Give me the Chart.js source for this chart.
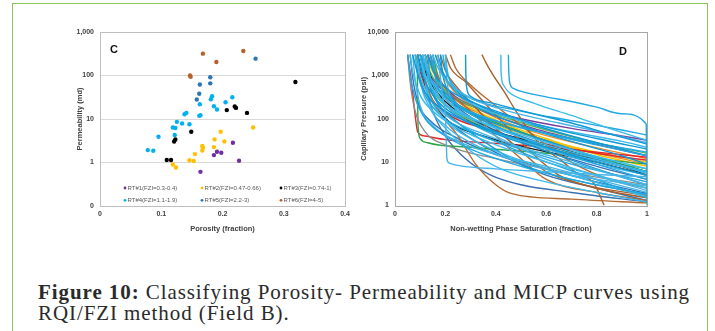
<!DOCTYPE html>
<html>
<head>
<meta charset="utf-8">
<script src="https://cdn.jsdelivr.net/npm/chart.js@4.4.1/dist/chart.umd.min.js"></script>
<style>
html,body{margin:0;padding:0;background:#fff;width:715px;height:331px;overflow:hidden;position:relative}
#frame{position:absolute;left:12px;top:3px;width:696px;height:400px;border:1.5px solid #8CC653;box-sizing:border-box}
#cC{position:absolute;left:40px;top:20px}
#cD{position:absolute;left:356px;top:20px}
.cap{position:absolute;left:38px;font-family:"Liberation Serif","Times New Roman",Times,serif;font-size:21px;line-height:21px;color:#2a2a2a;white-space:nowrap;font-weight:normal}
.cap b{font-weight:bold}
</style>
</head>
<body>
<div id="frame"></div>
<canvas id="cC" width="320" height="220"></canvas>
<canvas id="cD" width="330" height="220"></canvas>
<div class="cap" id="cap1" style="top:282px"><b>Figure 10:</b> Classifying Porosity- Permeability and MICP curves using</div>
<div class="cap" id="cap2" style="top:303px">RQI/FZI method (Field B).</div>
<script>
// ---------- Panel C data (porosity fraction, permeability md) ----------
const rtLabels = ['RT#1(FZI=0.3-0.4)','RT#2(FZI=0.47-0.66)','RT#3(FZI=0.74-1)','RT#4(FZI=1.1-1.9)','RT#5(FZI=2.2-3)','RT#6(FZI=4-5)'];
const rtColors = ['#7030A0','#FFC000','#000000','#00B0F0','#2E75B6','#B8602A'];

const porRT1 = [0.217,0.191,0.198,0.186,0.227,0.164];
const permRT1 = [2.84,1.77,1.67,1.48,1.10,0.61];
const porRT2 = [0.250,0.197,0.187,0.203,0.167,0.168,0.167,0.186,0.155,0.146,0.153,0.119,0.124];
const permRT2 = [6.4,5.1,3.4,3.05,2.4,2.18,1.89,2.26,1.56,1.13,1.08,0.90,0.77];
const porRT3 = [0.319,0.207,0.220,0.222,0.240,0.149,0.123,0.121,0.109,0.116];
const permRT3 = [71,16.0,19.4,18.0,13.8,5.1,3.4,3.05,1.14,1.14];
const porRT4 = [0.078,0.087,0.0955,0.122,0.119,0.123,0.1255,0.134,0.138,0.141,0.146,0.162,0.164,0.163,0.181,0.183,0.186,0.191,0.205,0.216];
const permRT4 = [1.93,1.86,3.9,4.3,6.4,6.2,8.6,7.9,12.9,13.8,7.6,11.8,12.2,21.9,28.5,33.4,19.7,16.5,24.3,31.7];
const porRT5 = [0.254,0.180,0.180,0.163,0.162,0.158];
const permRT5 = [244,91,66,62,38,28];
const porRT6 = [0.168,0.234,0.190,0.147,0.148];
const permRT6 = [318,366,205,100,93];

const xTicksC = [0,0.1,0.2,0.3,0.4];
const xTickLabelsC = ['0','0.1','0.2','0.3','0.4'];
const yTicksC = [0.1,1,10,100,1000];
const yTickLabelsC = ['0','1','10','100','1,000'];

// ---------- Panel D data (non-wetting saturation, capillary pressure psi) ----------
const cyanCurves = [
 [[0.45,3000],[0.451,1500],[0.455,700],[0.47,500],[0.52,400],[0.6,320],[0.7,250],[0.8,185],[0.9,130],[0.997,75],[1,1]],
 [[0.42,3000],[0.421,1200],[0.43,600],[0.45,420],[0.55,230],[0.7,120],[0.85,60],[1,32]],
 [[0.28,3000],[0.281,1200],[0.285,500],[0.3,330],[0.4,220],[0.55,130],[0.7,80],[0.85,45],[1,26]],
 [[0.17,3000],[0.18,900],[0.19,300],[0.2,120],[0.203,40],[0.206,12],[0.215,9.5],[0.26,8.2],[0.4,7],[0.6,6],[0.8,5.2],[1,4.6]],
 [[0.05,3000],[0.06,1000],[0.08,300],[0.12,100],[0.2,40],[0.3,20],[0.5,8],[0.7,4],[1,1.8]],
 [[0.06,3000],[0.07,1200],[0.1,350],[0.15,150],[0.25,60],[0.4,25],[0.6,10],[0.8,5],[1,2.5]],
 [[0.07,3000],[0.09,1100],[0.12,400],[0.2,150],[0.3,80],[0.45,40],[0.6,22],[0.8,10],[1,5]],
 [[0.08,3000],[0.1,900],[0.14,300],[0.22,100],[0.35,45],[0.5,22],[0.7,10],[1,3]],
 [[0.1,3000],[0.12,1400],[0.16,600],[0.25,200],[0.4,90],[0.6,45],[0.8,25],[1,14]],
 [[0.11,3000],[0.13,1200],[0.17,450],[0.25,160],[0.4,60],[0.6,25],[0.8,12],[1,6]],
 [[0.13,3000],[0.15,1300],[0.19,600],[0.3,250],[0.45,120],[0.6,65],[0.8,35],[1,20]],
 [[0.15,3000],[0.17,1500],[0.21,700],[0.3,300],[0.45,150],[0.65,80],[0.85,45],[1,28]],
 [[0.19,3000],[0.2,1400],[0.23,600],[0.3,300],[0.5,150],[0.7,90],[0.9,55],[1,42]],
 [[0.2,3000],[0.21,1100],[0.24,450],[0.32,200],[0.5,90],[0.7,50],[0.9,30],[1,22]],
 [[0.09,3000],[0.11,1000],[0.15,350],[0.25,110],[0.4,45],[0.6,18],[0.8,7],[1,3]],
 [[0.12,3000],[0.14,900],[0.18,300],[0.26,110],[0.4,40],[0.55,15],[0.75,6],[1,2.2]],
 [[0.14,3000],[0.16,1000],[0.2,400],[0.3,130],[0.45,50],[0.6,22],[0.8,9],[1,4]],
 [[0.1,3000],[0.115,900],[0.14,300],[0.2,90],[0.3,35],[0.45,14],[0.65,6],[1,1.6]],
 [[0.16,3000],[0.18,1400],[0.22,600],[0.32,220],[0.5,90],[0.7,40],[0.9,20],[1,14]],
 [[0.07,3000],[0.08,800],[0.1,200],[0.15,70],[0.25,30],[0.4,15],[0.6,8],[0.8,4],[1,2]],
 [[0.08,3000],[0.09,1100],[0.12,350],[0.18,120],[0.3,50],[0.5,20],[0.7,9],[1,3.5]],
 [[0.12,3000],[0.13,1000],[0.16,400],[0.24,150],[0.38,70],[0.55,35],[0.75,16],[1,7]],
 [[0.17,3000],[0.19,1200],[0.23,500],[0.33,180],[0.5,70],[0.7,30],[0.9,14],[1,9]],
 [[0.2,3000],[0.205,900],[0.22,300],[0.28,120],[0.4,50],[0.6,20],[0.8,9],[1,5]],
 [[0.13,3000],[0.14,800],[0.17,250],[0.25,80],[0.4,30],[0.55,13],[0.75,5],[1,1.5]],
 [[0.1,3000],[0.12,1000],[0.16,380],[0.24,130],[0.35,60],[0.5,30],[0.7,15],[0.9,8],[1,5.5]],
 [[0.18,3000],[0.19,1000],[0.22,350],[0.3,140],[0.45,60],[0.65,25],[0.85,10],[1,6]],
 [[0.11,3000],[0.12,700],[0.14,200],[0.2,70],[0.3,28],[0.45,12],[0.7,5],[1,2.8]],
 [[0.15,3000],[0.16,900],[0.19,350],[0.28,150],[0.45,75],[0.65,40],[0.85,24],[1,17]],
 [[0.09,3000],[0.1,800],[0.13,220],[0.2,60],[0.3,18],[0.42,7],[0.6,3.5],[0.8,2],[1,1.2]],
 [[0.12,3000],[0.13,900],[0.16,280],[0.24,90],[0.36,28],[0.5,9],[0.7,4],[1,1.8]]
];
const blueCurves = [
 [[0.09,3000],[0.11,900],[0.15,250],[0.22,80],[0.32,30],[0.45,12],[0.6,5],[0.8,2.5],[1,1.3]],
 [[0.14,3000],[0.16,1000],[0.2,350],[0.3,110],[0.45,40],[0.6,18],[0.8,8],[1,4]],
 [[0.11,3000],[0.13,1100],[0.18,420],[0.28,150],[0.42,60],[0.6,25],[0.8,11],[1,6]],
 [[0.1,3000],[0.12,700],[0.15,150],[0.2,40],[0.28,12],[0.38,5],[0.5,3],[0.7,2],[1,1.2]],
 [[0.06,3000],[0.07,900],[0.09,250],[0.14,90],[0.25,35],[0.4,15],[0.6,7],[0.8,3.5],[1,1.9]]
];
const brownCurves = [
 [[0.345,3000],[0.36,2000],[0.39,1000],[0.43,450],[0.48,150],[0.55,38],[0.62,16],[0.66,11],[0.72,5.5],[0.79,3.2],[0.83,1]],
 [[0.13,3000],[0.15,1500],[0.2,500],[0.3,150],[0.4,40],[0.5,12],[0.6,4],[0.8,2],[1,1.3]],
 [[0.2,3000],[0.22,1500],[0.28,700],[0.35,250],[0.45,60],[0.55,15],[0.65,5],[0.8,2.5],[1,1.5]],
 [[0.1,3000],[0.12,800],[0.16,200],[0.25,40],[0.32,9],[0.4,3],[0.46,1.9],[0.7,1.4],[1,1.15]],
 [[0.18,3000],[0.2,1300],[0.25,500],[0.32,180],[0.4,60],[0.5,18],[0.6,6],[0.75,3],[1,1.7]],
 [[0.22,3000],[0.24,1500],[0.3,600],[0.4,200],[0.5,70],[0.6,25],[0.7,10],[0.85,4],[1,2.5]]
];
const greenCurves = [
 [[0.088,3000],[0.089,800],[0.09,200],[0.092,60],[0.1,35],[0.13,28],[0.3,22],[0.6,16],[0.8,12],[1,9]],
 [[0.12,3000],[0.14,1200],[0.19,500],[0.3,200],[0.45,100],[0.6,55],[0.8,28],[1,16]],
 [[0.15,3000],[0.17,1000],[0.2,400],[0.3,150],[0.5,50],[0.7,20],[0.9,9],[1,6]],
 [[0.1,3000],[0.12,1000],[0.16,350],[0.26,120],[0.4,50],[0.6,22],[0.8,11],[1,7]]
];
const blackCurves = [
 [[0.12,3000],[0.14,1000],[0.18,300],[0.25,120],[0.4,50],[0.6,25],[0.8,12],[1,6]],
 [[0.09,3000],[0.11,1000],[0.14,300],[0.2,100],[0.35,40],[0.55,20],[0.8,10],[1,5]],
 [[0.1,3000],[0.13,900],[0.2,250],[0.35,70],[0.5,30],[0.7,15],[0.9,8],[1,5]]
];
const redCurves = [
 [[0.05,3000],[0.06,1200],[0.07,400],[0.08,120],[0.09,50],[0.12,40],[0.2,33],[0.4,27],[0.6,22],[0.8,17],[1,13]],
 [[0.08,3000],[0.1,1200],[0.13,400],[0.2,140],[0.35,60],[0.55,30],[0.8,16],[1,11]]
];
const purpleCurves = [
 [[0.1,3000],[0.14,1000],[0.2,400],[0.3,200],[0.5,100],[0.7,60],[0.9,40],[1,32]],
 [[0.13,3000],[0.16,1100],[0.22,400],[0.35,150],[0.55,60],[0.75,30],[1,14]]
];
const yellowCurves = [
 [[0.12,3000],[0.15,1200],[0.2,450],[0.3,180],[0.45,70],[0.6,35],[0.8,15],[1,8]],
 [[0.1,3000],[0.13,1100],[0.18,400],[0.28,150],[0.42,65],[0.6,32],[0.8,17],[1,10]]
];
const orangeCurves = [
 [[0.14,3000],[0.17,1000],[0.22,350],[0.35,120],[0.5,50],[0.7,22],[0.9,12],[1,9]],
 [[0.16,3000],[0.19,1000],[0.25,350],[0.38,120],[0.55,50],[0.75,25],[1,12]]
];
const grayCurves = [
 [[0.05,3000],[0.06,700],[0.08,150],[0.12,50],[0.2,25],[0.4,12],[0.6,7],[1,3]]
];

const xTicksD = [0,0.2,0.4,0.6,0.8,1];
const xTickLabelsD = ['0','0.2','0.4','0.6','0.8','1'];
const yTicksD = [1,10,100,1000,10000];
const yTickLabelsD = ['1','10','100','1,000','10,000'];

// ---------- styling ----------
Chart.defaults.font.family = "'Liberation Sans', Arial, sans-serif";
const tickFont = {size:7, weight:'bold'};
const tickColor = '#404040';
const titleFont = {size:7.5, weight:'bold'};
const titleColor = '#404040';

const boxPlugin = (color) => ({
  id:'box',
  afterDatasetsDraw(chart){
    const {ctx, chartArea:a} = chart;
    ctx.save(); ctx.strokeStyle = color; ctx.lineWidth = 1;
    ctx.strokeRect(Math.round(a.left)+0.5, Math.round(a.top)+0.5, Math.round(a.right-a.left), Math.round(a.bottom-a.top));
    ctx.restore();
  }
});
const letterPlugin = (txt, dx, dy) => ({
  id:'letter',
  afterDraw(chart){
    const {ctx, chartArea:a} = chart;
    ctx.save(); ctx.font = "bold 11px 'Liberation Sans', Arial"; ctx.fillStyle = '#111';
    ctx.textAlign = 'center'; ctx.textBaseline = 'middle';
    ctx.fillText(txt, a.left+dx, a.top+dy); ctx.restore();
  }
});
const legendC = {
  id:'legendC',
  afterDraw(chart){
    const {ctx, chartArea:a} = chart;
    const colX = [25,102,181], rowY = [156,168.3];
    ctx.save(); ctx.font = "6px 'Liberation Sans', Arial"; ctx.textBaseline = 'middle'; ctx.textAlign = 'left';
    chart.data.datasets.forEach((ds,i)=>{
      const x = a.left + colX[i%3], y = a.top + rowY[Math.floor(i/3)];
      ctx.fillStyle = ds.backgroundColor; ctx.beginPath(); ctx.arc(x,y,1.4,0,Math.PI*2); ctx.fill();
      ctx.fillStyle = '#595959'; ctx.fillText(ds.label, x+2.5, y);
    });
    ctx.restore();
  }
};

// ---------- Chart C ----------
const groupsC = [[porRT1,permRT1],[porRT2,permRT2],[porRT3,permRT3],[porRT4,permRT4],[porRT5,permRT5],[porRT6,permRT6]];
new Chart(document.getElementById('cC'), {
  type:'scatter',
  data:{datasets: groupsC.map((g,k)=>({
    label: rtLabels[k],
    data: g[0].map((x,i)=>({x:x, y:g[1][i]})),
    backgroundColor: rtColors[k], borderColor: rtColors[k],
    pointRadius:2.2, pointBorderWidth:0, pointHoverRadius:2.2
  }))},
  options:{
    responsive:false, animation:false, devicePixelRatio:1,
    layout:{padding:{left:0, top:12, right:15, bottom:0}},
    plugins:{legend:{display:false}, tooltip:{enabled:false}},
    scales:{
      x:{type:'linear', min:0, max:0.4,
        afterBuildTicks:s=>{s.ticks = xTicksC.map(v=>({value:v}));},
        afterFit:s=>{s.height = 34;},
        ticks:{callback:(v,i)=>xTickLabelsC[i], font:tickFont, color:tickColor, padding:4, maxRotation:0, autoSkip:false},
        grid:{display:false, drawTicks:false}, border:{display:false},
        title:{display:true, text:'Porosity (fraction)', font:titleFont, color:titleColor, padding:{top:0,bottom:6.5}}
      },
      y:{type:'logarithmic', min:0.1, max:1000,
        afterBuildTicks:s=>{s.ticks = yTicksC.map(v=>({value:v}));},
        afterFit:s=>{s.width = 60;},
        ticks:{callback:(v,i)=>yTickLabelsC[i], font:tickFont, color:tickColor, padding:6, autoSkip:false},
        grid:{color:'#D9D9D9', lineWidth:1, drawTicks:false}, border:{display:false},
        title:{display:true, text:'Permeability (md)', font:titleFont, color:titleColor, padding:{top:35,bottom:0}}
      }
    }
  },
  plugins:[boxPlugin('#BFBFBF'), letterPlugin('C',14,17.5), legendC]
});

// ---------- Chart D ----------
const groupsD = [
  [cyanCurves, ['#1FA8E1','#3BBBEB','#0F98D6','#45B4E6']],
  [grayCurves, ['#8C8C8C']],
  [brownCurves, ['#A8602C','#B46A34']],
  [blackCurves, ['#1A1A1A']],
  [greenCurves, ['#2BA64A','#5DB85A']],
  [blueCurves, ['#2E75B6','#3A6FB0']],
  [redCurves, ['#E3262B']],
  [purpleCurves, ['#7B3FA0']],
  [yellowCurves, ['#F2C200']],
  [orangeCurves, ['#F08C28']]
];
const dsD = [];
groupsD.forEach(([curves, cols])=>{
  curves.forEach((c,i)=>{
    dsD.push({
      data: c.map(p=>({x:p[0], y:p[1]})),
      borderColor: cols[i % cols.length], backgroundColor: cols[i % cols.length],
      borderWidth:1.4, pointRadius:0, fill:false, cubicInterpolationMode:'monotone'
    });
  });
});
new Chart(document.getElementById('cD'), {
  type:'line',
  data:{datasets: dsD},
  options:{
    responsive:false, animation:false, devicePixelRatio:1,
    layout:{padding:{left:0, top:12, right:39, bottom:0}},
    plugins:{legend:{display:false}, tooltip:{enabled:false}},
    scales:{
      x:{type:'linear', min:0, max:1,
        afterBuildTicks:s=>{s.ticks = xTicksD.map(v=>({value:v}));},
        afterFit:s=>{s.height = 34.5;},
        ticks:{callback:(v,i)=>xTickLabelsD[i], font:tickFont, color:tickColor, padding:4, maxRotation:0, autoSkip:false},
        grid:{display:false, drawTicks:false}, border:{display:false},
        title:{display:true, text:'Non-wetting Phase Saturation (fraction)', font:titleFont, color:titleColor, padding:{top:0,bottom:6.5}}
      },
      y:{type:'logarithmic', min:1, max:10000,
        afterBuildTicks:s=>{s.ticks = yTicksD.map(v=>({value:v}));},
        afterFit:s=>{s.width = 39;},
        ticks:{callback:(v,i)=>yTickLabelsD[i], font:tickFont, color:tickColor, padding:6, autoSkip:false},
        grid:{display:false, drawTicks:false}, border:{display:false},
        title:{display:true, text:'Capillary Pressure (psi)', font:titleFont, color:titleColor, padding:{top:3.5,bottom:0}}
      }
    }
  },
  plugins:[boxPlugin('#A6A6A6'), letterPlugin('D',228,20)]
});

// ---------- caption width fit ----------
function fitCaption(){
  const l1 = document.getElementById('cap1'), l2 = document.getElementById('cap2');
  l1.style.letterSpacing = '0px'; l2.style.letterSpacing = '0px';
  const w = l1.getBoundingClientRect().width;
  const n = l1.textContent.length;
  const ls = (652 - w) / n;
  l1.style.letterSpacing = ls + 'px';
  l2.style.letterSpacing = ls + 'px';
}
fitCaption();
if (document.fonts && document.fonts.ready) document.fonts.ready.then(fitCaption);
</script>
</body>
</html>
